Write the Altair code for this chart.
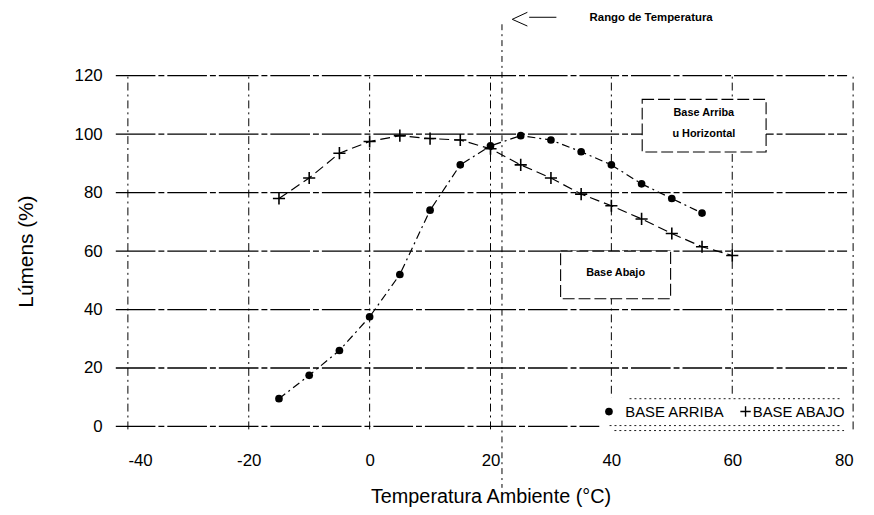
import altair as alt
import pandas as pd

# ---- data ----
temps_arriba = [-15, -10, -5, 0, 5, 10, 15, 20, 25, 30, 35, 40, 45, 50, 55]
lumens_arriba = [9.5, 17.5, 26, 37.5, 52, 74, 89.5, 96, 99.5, 98, 94, 89.5, 83, 78, 73]
temps_abajo = [-15, -10, -5, 0, 5, 10, 15, 20, 25, 30, 35, 40, 45, 50, 55, 60]
lumens_abajo = [78, 85, 93.5, 97.5, 99.5, 98.5, 98, 95, 89.5, 85, 79.5, 75.5, 71, 66, 61.5, 58.5]
x_ticks = [-40, -20, 0, 20, 40, 60, 80]
y_ticks = [0, 20, 40, 60, 80, 100, 120]
series_names = ["BASE ARRIBA", "BASE ABAJO"]
x_title = "Temperatura Ambiente (°C)"
y_title = "Lúmens (%)"
range_label = "Rango de Temperatura"
box1_lines = ["Base Arriba", "u Horizontal"]
box2_label = "Base Abajo"

FONT = "Liberation Sans"
xs = alt.Scale(domain=[x_ticks[0], x_ticks[-1]], nice=False, zero=False)
ys = alt.Scale(domain=[y_ticks[0], y_ticks[-1]], nice=False, zero=False)
NOX = dict(scale=xs, axis=None)
NOY = dict(scale=ys, axis=None)

df_arriba = pd.DataFrame({"t": temps_arriba, "l": lumens_arriba})
df_abajo = pd.DataFrame({"t": temps_abajo, "l": lumens_abajo})


def segments(rows):
    return pd.DataFrame(rows, columns=["xa", "xb", "ya", "yb"])


def seg_layer(df, **style):
    return alt.Chart(df).mark_rule(color="black", **style).encode(
        x=alt.X("xa:Q", **NOX), x2="xb:Q",
        y=alt.Y("ya:Q", **NOY), y2="yb:Q",
    )


# gridlines (at the tick positions)
hgrid = seg_layer(segments([(-42, 79, v, v) for v in y_ticks]),
                  strokeWidth=1.3, strokeDash=[40, 3, 6, 3])
vgrid = seg_layer(segments([(v, v, -1, 120) for v in x_ticks]),
                  strokeWidth=1, strokeDash=[8, 4, 2, 4])

# annotation boxes
boxes = alt.Chart(segments([(45.1, 65.6, 111.9, 93.9), (31.6, 49.8, 60.0, 43.7)])).mark_rect(
    fill="white", stroke="black", strokeWidth=1.1, strokeDash=[12, 4]
).encode(x=alt.X("xa:Q", **NOX), x2="xb:Q", y=alt.Y("ya:Q", **NOY), y2="yb:Q")

# legend background
legend_bg = alt.Chart(segments([(38, 79.5, 10, -2)])).mark_rect(fill="white").encode(
    x=alt.X("xa:Q", **NOX), x2="xb:Q", y=alt.Y("ya:Q", **NOY), y2="yb:Q")

seg_dot = seg_layer(segments([(43.0, 78.2, 9.5, 9.5), (39.7, 78.2, 0.3, 0.3), (40.5, 78.5, -1.4, -1.4)]),
                    strokeWidth=0.9, strokeDash=[2, 3])
seg_dash = seg_layer(segments([(21.9, 21.9, 137.6, -21.0)]), strokeWidth=1, strokeDash=[6, 4, 2, 4])
seg_solid = seg_layer(segments([(23.6, 26.1, 139.3, 141.7), (23.6, 26.1, 139.3, 137.0),
                                (26.4, 30.9, 140.0, 140.0)]), strokeWidth=1)

# data series (this layer carries the axes)
line_arriba = alt.Chart(df_arriba).mark_line(
    color="black", strokeWidth=1.2, strokeDash=[8, 4, 2, 4]
).encode(
    x=alt.X("t:Q", scale=xs, title=x_title,
            axis=alt.Axis(values=x_ticks, domain=False, ticks=False, grid=False,
                          labelExpr="'' + datum.value",
                          labelFont=FONT, labelFontSize=17, labelColor="black",
                          labelPadding=26, titleFont=FONT, titleFontSize=20,
                          titleFontWeight="normal", titleColor="black",
                          titleY=61, titleBaseline="top")),
    y=alt.Y("l:Q", scale=ys, title=y_title,
            axis=alt.Axis(values=y_ticks, domain=False, ticks=False, grid=False,
                          labelExpr="'' + datum.value",
                          labelFont=FONT, labelFontSize=17, labelColor="black",
                          labelPadding=26, titleFont=FONT, titleFontSize=21,
                          titleFontWeight="normal", titleColor="black",
                          titleX=-92, titleY=177)),
)
pts_arriba = alt.Chart(df_arriba).mark_point(
    shape="circle", filled=True, color="black", size=60, opacity=1
).encode(x=alt.X("t:Q", **NOX), y=alt.Y("l:Q", **NOY))

line_abajo = alt.Chart(df_abajo).mark_line(
    color="black", strokeWidth=1.2, strokeDash=[10, 5]
).encode(x=alt.X("t:Q", **NOX), y=alt.Y("l:Q", **NOY))
pts_abajo = alt.Chart(df_abajo).mark_point(
    shape="M-1,0L1,0M0,-1L0,1", filled=False, color="black", strokeWidth=1.6, size=150, opacity=1
).encode(x=alt.X("t:Q", **NOX), y=alt.Y("l:Q", **NOY))

# legend symbols and labels
leg_dot = alt.Chart(pd.DataFrame({"xa": [39.6], "ya": [5.1]})).mark_point(
    shape="circle", filled=True, color="black", size=60, opacity=1
).encode(x=alt.X("xa:Q", **NOX), y=alt.Y("ya:Q", **NOY))
leg_plus = alt.Chart(pd.DataFrame({"xa": [62.2], "ya": [5.1]})).mark_point(
    shape="M-1,0L1,0M0,-1L0,1", filled=False, color="black", strokeWidth=1.4, size=110, opacity=1
).encode(x=alt.X("xa:Q", **NOX), y=alt.Y("ya:Q", **NOY))
leg_text = alt.Chart(pd.DataFrame({"xa": [42.3, 63.4], "ya": [5.1, 5.1], "s": series_names})).mark_text(
    align="left", baseline="middle", font=FONT, fontSize=15, color="black"
).encode(x=alt.X("xa:Q", **NOX), y=alt.Y("ya:Q", **NOY), text="s:N")

# annotation texts
ann_left = alt.Chart(pd.DataFrame({"xa": [36.4], "ya": [139.7], "s": [range_label]})).mark_text(
    align="left", baseline="middle", font=FONT, fontSize=11.5, fontWeight="bold", color="black"
).encode(x=alt.X("xa:Q", **NOX), y=alt.Y("ya:Q", **NOY), text="s:N")
ann_center = alt.Chart(pd.DataFrame({
    "xa": [55.3, 55.3, 40.7], "ya": [107.2, 100.0, 52.5],
    "s": [box1_lines[0], box1_lines[1], box2_label]})).mark_text(
    align="center", baseline="middle", font=FONT, fontSize=11, fontWeight="bold", color="black"
).encode(x=alt.X("xa:Q", **NOX), y=alt.Y("ya:Q", **NOY), text="s:N")

chart = alt.layer(
    line_arriba, vgrid, hgrid, boxes, legend_bg, seg_dot, seg_dash, seg_solid,
    line_abajo, pts_abajo, pts_arriba, leg_dot, leg_plus, leg_text, ann_left, ann_center,
).resolve_axis(x="independent", y="independent").properties(
    width=732, height=354,
    autosize=alt.AutoSizeParams(type="none"),
    padding={"left": 121, "top": 66, "right": 13, "bottom": 86},
).configure_view(stroke=None)

chart.save("out.html", embed_options={"renderer": "svg", "actions": False})
